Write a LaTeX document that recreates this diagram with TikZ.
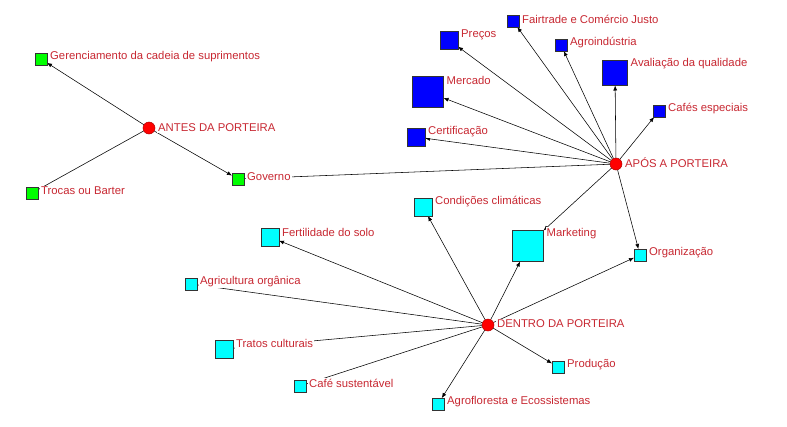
\documentclass[tikz,border=0pt]{standalone}
\usepackage{fontspec}
\setmainfont{Liberation Sans}
\usetikzlibrary{arrows.meta}
\pgfdeclarelayer{paper}
\pgfdeclarelayer{bg}
\pgfsetlayers{paper,bg,main}
\definecolor{lblred}{RGB}{200,40,50}
\definecolor{gsq}{RGB}{0,255,0}
\definecolor{bsq}{RGB}{0,0,255}
\definecolor{csq}{RGB}{0,255,255}
\begin{document}
\begin{tikzpicture}[x=1pt,y=-1pt,
  sq/.style={draw=black!80, line width=0.6pt, minimum size=#1, inner sep=0pt, outer sep=0pt},
  gbox/.style={sq=#1, fill=gsq},
  bbox/.style={sq=#1, fill=bsq},
  cbox/.style={sq=#1, fill=csq},
  hub/.style={circle, fill=red, draw=red!70!black, line width=0.5pt, minimum size=12pt, inner sep=0pt, outer sep=0pt},
  lbl/.style={text=lblred, font=\fontsize{11.3}{13}\selectfont, inner sep=1pt, fill=white, anchor=west},
  edge/.style={draw=black, line width=0.55pt},
  arr/.style={edge, -{Latex[length=5pt,width=4pt]}}
]
\useasboundingbox (0,0) rectangle (787,426);
\begin{pgfonlayer}{paper}
\fill[white] (0,0) rectangle (787,426);
\end{pgfonlayer}

% hubs
\node[hub] (antes) at (149,128) {};
\node[hub] (apos) at (616,164) {};
\node[hub] (dentro) at (488,325) {};

% green
\node[gbox=12] (ger) at (41,59) {};
\node[gbox=12] (troc) at (32,193) {};
\node[gbox=12] (gov) at (238,179) {};

% blue
\node[bbox=12] (fair) at (513,21) {};
\node[bbox=18] (prec) at (449,40) {};
\node[bbox=12] (agroi) at (561,45) {};
\node[bbox=25] (aval) at (615,73) {};
\node[bbox=31] (merc) at (428,92) {};
\node[bbox=12] (cafes) at (659,111) {};
\node[bbox=18] (cert) at (416,137) {};

% cyan
\node[cbox=18] (cond) at (423,207) {};
\node[cbox=31] (mkt) at (528,246) {};
\node[cbox=12] (org) at (640,255) {};
\node[cbox=12] (prod) at (558,367) {};
\node[cbox=12] (agrof) at (438,404) {};
\node[cbox=18] (fert) at (270,237) {};
\node[cbox=12] (agric) at (191,284) {};
\node[cbox=18] (trat) at (224,349) {};
\node[cbox=12] (cafe) at (300,386) {};

% labels
\node[lbl] (l-antes) at ([xshift=2pt]antes.east) {ANTES DA PORTEIRA};
\node[lbl] (l-apos) at ([xshift=2pt,yshift=1pt]apos.east) {APÓS A PORTEIRA};
\node[lbl] (l-dentro) at ([xshift=2pt,yshift=1pt]dentro.east) {DENTRO DA PORTEIRA};

\node[lbl] (l-ger) at ([xshift=2pt,yshift=-3.5pt]ger.north east) {Gerenciamento da cadeia de suprimentos};
\node[lbl] (l-troc) at ([xshift=2pt,yshift=-4pt]troc.north east) {Trocas ou Barter};
\node[lbl] (l-gov) at ([xshift=2pt,yshift=-4pt]gov.north east) {Governo};

\node[lbl] (l-fair) at ([xshift=2pt,yshift=-4.5pt]fair.north east) {Fairtrade e Comércio Justo};
\node[lbl] (l-prec) at ([xshift=2pt,yshift=-4pt]prec.north east) {Preços};
\node[lbl] (l-agroi) at ([xshift=2pt,yshift=-4pt]agroi.north east) {Agroindústria};
\node[lbl] (l-aval) at ([xshift=2pt,yshift=-3.5pt]aval.north east) {Avaliação da qualidade};
\node[lbl] (l-merc) at ([xshift=2pt,yshift=-4pt]merc.north east) {Mercado};
\node[lbl] (l-cafes) at ([xshift=2pt,yshift=-4pt]cafes.north east) {Cafés especiais};
\node[lbl] (l-cert) at ([xshift=2pt,yshift=-4pt]cert.north east) {Certificação};

\node[lbl] (l-cond) at ([xshift=2pt,yshift=-4pt]cond.north east) {Condições climáticas};
\node[lbl] (l-mkt) at ([xshift=2pt,yshift=-3pt]mkt.north east) {Marketing};
\node[lbl] (l-org) at ([xshift=2pt,yshift=-4pt]org.north east) {Organização};
\node[lbl] (l-prod) at ([xshift=2pt,yshift=-3.5pt]prod.north east) {Produção};
\node[lbl] (l-agrof) at ([xshift=2pt,yshift=-3.5pt]agrof.north east) {Agrofloresta e Ecossistemas};
\node[lbl] (l-fert) at ([xshift=2pt,yshift=-4pt]fert.north east) {Fertilidade do solo};
\node[lbl] (l-agric) at ([xshift=2pt,yshift=-4pt]agric.north east) {Agricultura orgânica};
\node[lbl] (l-trat) at ([xshift=2pt,yshift=-3.5pt]trat.north east) {Tratos culturais};
\node[lbl] (l-cafe) at ([xshift=2pt,yshift=-3.5pt]cafe.north east) {Café sustentável};

% edges
\begin{pgfonlayer}{bg}
\draw[arr] (antes) -- (ger);
\draw[arr] (antes) -- (gov);
\draw[edge] (antes) -- (troc);

\draw[arr] (apos) -- (fair);
\draw[arr] (apos) -- (prec);
\draw[arr] (apos) -- (agroi);
\draw[arr] (apos) -- (aval);
\draw[arr] (apos) -- (merc);
\draw[arr] (apos) -- (cafes);
\draw[arr] (apos) -- (cert);
\draw[arr] (apos) -- (mkt.north east);
\draw[arr] (apos) -- (org);
\draw[edge] (apos) -- (gov);

\draw[arr] (dentro) -- (cond);
\draw[arr] (dentro) -- (mkt);
\draw[arr] (dentro) -- (org);
\draw[arr] (dentro) -- (prod);
\draw[arr] (dentro) -- (agrof);
\draw[arr] (dentro) -- (fert);
\draw[edge] (dentro) -- (agric);
\draw[edge] (dentro) -- (trat);
\draw[edge] (dentro) -- (cafe);
\end{pgfonlayer}
\end{tikzpicture}
\end{document}
